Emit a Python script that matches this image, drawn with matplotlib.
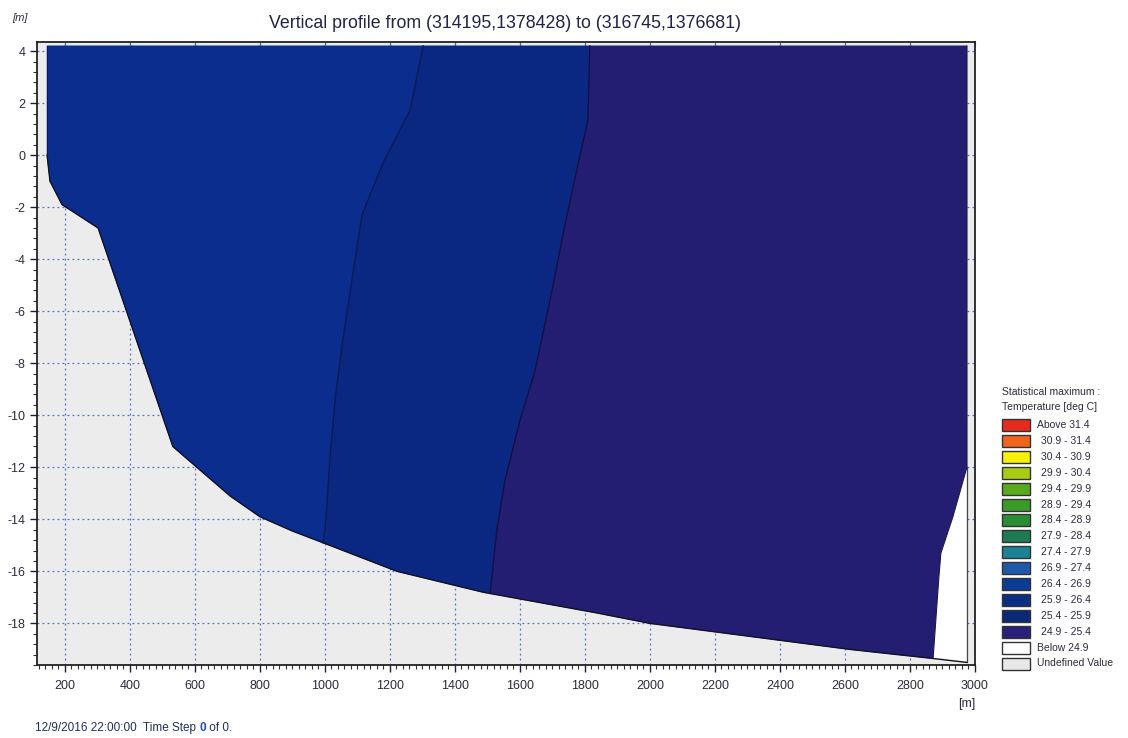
import numpy as np
import matplotlib
matplotlib.use("Agg")
import matplotlib.pyplot as plt
import matplotlib.patches as mpatches
from matplotlib import font_manager
from matplotlib.ticker import MultipleLocator

plt.rcParams["axes.unicode_minus"] = False

# pick a narrow font if there is one
names = {f.name for f in font_manager.fontManager.ttflist}
if "Liberation Sans Narrow" in names:
    FONT = ["Liberation Sans Narrow", "DejaVu Sans"]
    narrow = True
else:
    FONT = ["Liberation Sans", "DejaVu Sans"]
    narrow = False
plt.rcParams["font.family"] = FONT

# ─────────────────────────────────────────────────
# data (x in m along the section, z in m)
# ─────────────────────────────────────────────────
surface_z = 4.2
left_x = 145
right_x = 2975

bed_x = [145, 154, 191, 302, 532, 606, 708, 800, 900, 994, 1222, 1486, 1837, 2000, 2400, 2615, 2871, 2975]
bed_z = [0.0, -1.0, -1.9, -2.8, -11.2, -12.0, -13.1, -13.9, -14.45, -14.9, -16.0, -16.8, -17.6, -18.0, -18.65, -19.0, -19.35, -19.5]

# boundary between 26.4-26.9 and 25.9-26.4 (top to bed)
bnd_a_x = [1302, 1262, 1178, 1114, 1083, 1055, 1031, 1015, 1003, 994]
bnd_a_z = [4.2, 1.73, -0.31, -2.3, -4.8, -7.1, -9.4, -11.7, -14.0, -14.9]

# boundary between 25.9-26.4 and 24.9-25.4 (top to bed)
bnd_b_x = [1815, 1809, 1778, 1738, 1692, 1646, 1600, 1554, 1529, 1508]
bnd_b_z = [4.2, 1.35, -0.38, -2.7, -5.6, -8.3, -10.2, -12.5, -14.4, -16.85]

# right edge of the wet section (bottom to top)
edge_x = [2871, 2889, 2895, 2932, 2975, 2975]
edge_z = [-19.35, -16.2, -15.3, -13.9, -12.0, 4.2]

zone_colors = ["#0b2e8e", "#0a2881", "#241e72"]

legend_labels = ["Above 31.4", "30.9 - 31.4", "30.4 - 30.9", "29.9 - 30.4", "29.4 - 29.9",
                 "28.9 - 29.4", "28.4 - 28.9", "27.9 - 28.4", "27.4 - 27.9", "26.9 - 27.4",
                 "26.4 - 26.9", "25.9 - 26.4", "25.4 - 25.9", "24.9 - 25.4", "Below 24.9",
                 "Undefined Value"]
legend_colors = ["#e62a1e", "#f0641e", "#f6f00a", "#a8cc14", "#5aaa1e",
                 "#3c9a28", "#2a8c34", "#1e7a50", "#1c8296", "#1e5aaa",
                 "#0a3c96", "#0a2e84", "#0a2a78", "#28207a", "#ffffff",
                 "#e8e8e8"]

xticks = list(range(200, 3001, 200))
yticks = list(range(-18, 5, 2))

W, H = 1128, 738
fig = plt.figure(figsize=(W / 100, H / 100), dpi=100)
fig.patch.set_facecolor("white")


def fx(px):
    return px / W


def fy(py):
    return 1 - py / H


ax = fig.add_axes([fx(37), fy(665), fx(975) - fx(37), fy(42) - fy(665)])
ax.set_facecolor("#ececec")
ax.set_xlim(114, 3000)
ax.set_ylim(-19.6, 4.35)


def bed_between(x0, x1):
    xs = [x for x in bed_x if x0 < x < x1]
    return xs, list(np.interp(xs, bed_x, bed_z))


# zone 1 : left
bx, bz = bed_between(left_x, bnd_a_x[-1])
px1 = [left_x] + bnd_a_x + bx[::-1] + [left_x]
pz1 = [surface_z] + bnd_a_z + bz[::-1] + [bed_z[0]]
# zone 2 : middle
bx, bz = bed_between(bnd_a_x[-1], bnd_b_x[-1])
px2 = bnd_b_x + bx[::-1] + bnd_a_x[::-1]
pz2 = bnd_b_z + bz[::-1] + bnd_a_z[::-1]
# zone 3 : right
bx, bz = bed_between(bnd_b_x[-1], edge_x[0])
px3 = bnd_b_x + bx + edge_x
pz3 = bnd_b_z + bz + edge_z

for xs, zs, c in zip([px1, px2, px3], [pz1, pz2, pz3], zone_colors):
    ax.add_patch(mpatches.Polygon(np.column_stack([xs, zs]), closed=True,
                                  facecolor=c, edgecolor=c, lw=0.5, zorder=2))

# white part right of the wet section
wx = edge_x[:-1] + [bed_x[-1]]
wz = edge_z[:-1] + [bed_z[-1]]
ax.add_patch(mpatches.Polygon(np.column_stack([wx, wz]), closed=True,
                              facecolor="white", edgecolor="none", zorder=2))
ax.plot([right_x, right_x], [edge_z[-2], bed_z[-1]], color="#444444", lw=0.9, zorder=3)

# outlines
ax.plot(bed_x, bed_z, color="#111122", lw=1.0, zorder=3)
ax.plot([left_x, left_x], [bed_z[0], surface_z], color="#111144", lw=0.6, zorder=3)
ax.plot(bnd_a_x, bnd_a_z, color="#0a1a55", lw=1.0, zorder=3)
ax.plot(bnd_b_x, bnd_b_z, color="#120f45", lw=1.0, zorder=3)
ax.plot(edge_x, edge_z, color="#1a1a40", lw=0.8, zorder=3)

# grid and ticks
ax.set_xticks(xticks)
ax.set_yticks(yticks)
ax.xaxis.set_minor_locator(MultipleLocator(20))
ax.yaxis.set_minor_locator(MultipleLocator(0.4))
ax.grid(True, which="major", color="#4f72c4", linestyle=(0, (1.5, 2.5)), lw=0.9, zorder=1)
ax.set_axisbelow(True)
fs_tick = 10.5 if narrow else 9
ax.tick_params(axis="both", which="major", direction="out", length=5, width=1.0,
               labelsize=fs_tick, labelcolor="#2b2b3b", color="#222222")
ax.tick_params(axis="both", which="minor", direction="out", length=3, width=0.8, color="#333333")
ax.tick_params(axis="x", which="major", pad=6)
for sp in ax.spines.values():
    sp.set_color("#222222")
    sp.set_linewidth(1.3)

# short inward marks on the top frame
top_ax = ax.secondary_xaxis("top")
top_ax.set_xticks(xticks)
top_ax.tick_params(direction="in", length=3, width=0.8, color="#555555", labeltop=False)
top_ax.spines["top"].set_visible(False)

# title and unit labels
fig.text(fx(505), fy(24), "Vertical profile from (314195,1378428) to (316745,1376681)",
         ha="center", va="center", fontsize=14 if narrow else 12.8, color="#22224a")
fig.text(fx(12), fy(18), "[m]", ha="left", va="center", fontsize=9 if narrow else 8,
         color="#2b2b3b", style="italic")
fig.text(fx(967), fy(704), "[m]", ha="center", va="center", fontsize=10 if narrow else 9,
         color="#2b2b3b")

# time stamp, the step number in blue
fs_time = 10 if narrow else 8.5
t1 = fig.text(fx(35), fy(731), "12/9/2016 22:00:00  Time Step ", ha="left", va="baseline",
              fontsize=fs_time, color="#1f2f5a")
fig.canvas.draw()
x_next = t1.get_window_extent().x1 / W
t2 = fig.text(x_next, fy(731), "0", fontsize=fs_time, color="#1f4fb0", ha="left",
              va="baseline", fontweight="bold")
fig.canvas.draw()
x_next = t2.get_window_extent().x1 / W
fig.text(x_next, fy(731), " of 0.", fontsize=fs_time, color="#1f2f5a",
         ha="left", va="baseline")

# legend on the right
fs_leg = 9 if narrow else 7.5
fig.text(fx(1002), fy(392), "Statistical maximum :", ha="left", va="center",
         fontsize=fs_leg, color="#2b2b3b")
fig.text(fx(1002), fy(407), "Temperature [deg C]", ha="left", va="center",
         fontsize=fs_leg, color="#2b2b3b")
top, step = 425, 15.9
for i, (lab, col) in enumerate(zip(legend_labels, legend_colors)):
    yc = top + i * step
    fig.patches.append(mpatches.Rectangle((fx(1002), fy(yc + 6)), fx(28), 12 / H,
                                          transform=fig.transFigure, facecolor=col,
                                          edgecolor="#333333", lw=1.0))
    indent = 1037 if i in (0, 14, 15) else 1041
    fig.text(fx(indent), fy(yc), lab, ha="left", va="center", fontsize=fs_leg, color="#2b2b3b")

fig.savefig("out.png", dpi=100)
